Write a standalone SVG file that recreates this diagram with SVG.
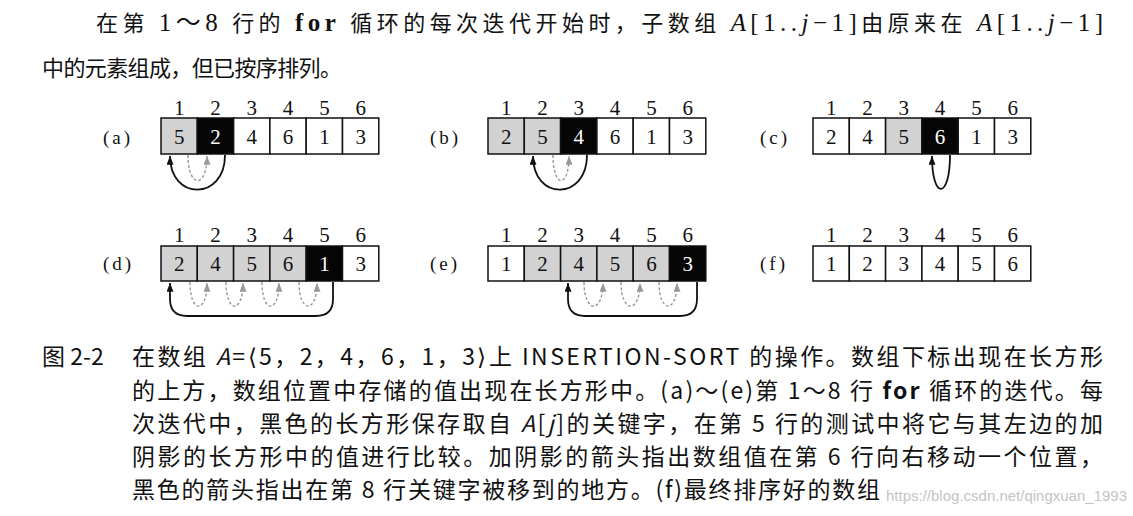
<svg xmlns="http://www.w3.org/2000/svg" width="1133" height="516" viewBox="0 0 1133 516">
<style>
.bg{fill:#fff}
.c{stroke:#111;stroke-width:1.5}
.w{fill:#fff}.g{fill:#d2d2d2}.k{fill:#050505}
.num{font-family:"Liberation Serif",serif;font-size:21px;text-anchor:middle;fill:#111}
.inv{fill:#fff}
.lbl{font-family:"Liberation Serif",serif;font-size:19px;fill:#111;letter-spacing:3px}
.txt{font-family:"Liberation Serif","Noto Sans CJK SC",serif;font-size:22px;fill:#111}
.lat{font-size:25px}
.cap{font-family:"Noto Sans CJK SC",sans-serif;font-size:23px;fill:#111}
.blk{fill:none;stroke:#111;stroke-width:1.8}
.gry{fill:none;stroke:#999;stroke-width:1.4;stroke-dasharray:3 2}
.wm{font-family:"Liberation Sans",sans-serif;font-size:15px;fill:#c4c4c4}
</style>
<defs>
<marker id="ak" viewBox="0 0 10 8" refX="10" refY="4" markerWidth="9" markerHeight="7" markerUnits="userSpaceOnUse" orient="auto"><path d="M0,0L10,4L0,8z" fill="#111"/></marker>
<marker id="ag" viewBox="0 0 10 8" refX="10" refY="4" markerWidth="9" markerHeight="7" markerUnits="userSpaceOnUse" orient="auto"><path d="M0,0L10,4L0,8z" fill="#999"/></marker>
</defs>
<rect class="bg" x="0" y="0" width="1133" height="516"/>

<g id="intro">
<text class="txt" x="96" y="31" textLength="1007" lengthAdjust="spacing">在第 <tspan class="lat">1～8</tspan> 行的 <tspan class="lat" font-weight="bold">for</tspan> 循环的每次迭代开始时，子数组 <tspan class="lat"><tspan font-style="italic">A</tspan>[1..<tspan font-style="italic">j</tspan>−1]</tspan>由原来在 <tspan class="lat"><tspan font-style="italic">A</tspan>[1..<tspan font-style="italic">j</tspan>−1]</tspan></text>
<text class="txt" x="42" y="76" textLength="300" lengthAdjust="spacing">中的元素组成，但已按序排列。</text>
</g>

<g id="array-a">
<text class="lbl" x="103" y="144">(a)</text>
<g class="num"><text x="179.2" y="115">1</text><text x="215.5" y="115">2</text><text x="251.8" y="115">3</text><text x="288.1" y="115">4</text><text x="324.4" y="115">5</text><text x="360.7" y="115">6</text></g>
<rect class="c g" x="161" y="118" width="36.3" height="36"/>
<rect class="c k" x="197.3" y="118" width="36.3" height="36"/>
<rect class="c w" x="233.6" y="118" width="36.3" height="36"/>
<rect class="c w" x="269.9" y="118" width="36.3" height="36"/>
<rect class="c w" x="306.2" y="118" width="36.3" height="36"/>
<rect class="c w" x="342.5" y="118" width="36.3" height="36"/>
<g class="num"><text x="179.2" y="144">5</text><text x="215.5" y="144" class="inv">2</text><text x="251.8" y="144">4</text><text x="288.1" y="144">6</text><text x="324.4" y="144">1</text><text x="360.7" y="144">3</text></g>
</g>

<g id="array-b">
<text class="lbl" x="430" y="144">(b)</text>
<g class="num"><text x="506.2" y="115">1</text><text x="542.5" y="115">2</text><text x="578.8" y="115">3</text><text x="615.1" y="115">4</text><text x="651.4" y="115">5</text><text x="687.7" y="115">6</text></g>
<rect class="c g" x="488" y="118" width="36.3" height="36"/>
<rect class="c g" x="524.3" y="118" width="36.3" height="36"/>
<rect class="c k" x="560.6" y="118" width="36.3" height="36"/>
<rect class="c w" x="596.9" y="118" width="36.3" height="36"/>
<rect class="c w" x="633.2" y="118" width="36.3" height="36"/>
<rect class="c w" x="669.5" y="118" width="36.3" height="36"/>
<g class="num"><text x="506.2" y="144">2</text><text x="542.5" y="144">5</text><text x="578.8" y="144" class="inv">4</text><text x="615.1" y="144">6</text><text x="651.4" y="144">1</text><text x="687.7" y="144">3</text></g>
</g>

<g id="array-c">
<text class="lbl" x="760" y="144">(c)</text>
<g class="num"><text x="831.2" y="115">1</text><text x="867.5" y="115">2</text><text x="903.8" y="115">3</text><text x="940.1" y="115">4</text><text x="976.4" y="115">5</text><text x="1012.7" y="115">6</text></g>
<rect class="c w" x="813" y="118" width="36.3" height="36"/>
<rect class="c w" x="849.3" y="118" width="36.3" height="36"/>
<rect class="c g" x="885.6" y="118" width="36.3" height="36"/>
<rect class="c k" x="921.9" y="118" width="36.3" height="36"/>
<rect class="c w" x="958.2" y="118" width="36.3" height="36"/>
<rect class="c w" x="994.5" y="118" width="36.3" height="36"/>
<g class="num"><text x="831.2" y="144">2</text><text x="867.5" y="144">4</text><text x="903.8" y="144">5</text><text x="940.1" y="144" class="inv">6</text><text x="976.4" y="144">1</text><text x="1012.7" y="144">3</text></g>
</g>

<g id="array-d">
<text class="lbl" x="103" y="270">(d)</text>
<g class="num"><text x="179.2" y="242">1</text><text x="215.5" y="242">2</text><text x="251.8" y="242">3</text><text x="288.1" y="242">4</text><text x="324.4" y="242">5</text><text x="360.7" y="242">6</text></g>
<rect class="c g" x="161" y="246" width="36.3" height="35"/>
<rect class="c g" x="197.3" y="246" width="36.3" height="35"/>
<rect class="c g" x="233.6" y="246" width="36.3" height="35"/>
<rect class="c g" x="269.9" y="246" width="36.3" height="35"/>
<rect class="c k" x="306.2" y="246" width="36.3" height="35"/>
<rect class="c w" x="342.5" y="246" width="36.3" height="35"/>
<g class="num"><text x="179.2" y="271">2</text><text x="215.5" y="271">4</text><text x="251.8" y="271">5</text><text x="288.1" y="271">6</text><text x="324.4" y="271" class="inv">1</text><text x="360.7" y="271">3</text></g>
</g>

<g id="array-e">
<text class="lbl" x="430" y="270">(e)</text>
<g class="num"><text x="506.2" y="242">1</text><text x="542.5" y="242">2</text><text x="578.8" y="242">3</text><text x="615.1" y="242">4</text><text x="651.4" y="242">5</text><text x="687.7" y="242">6</text></g>
<rect class="c w" x="488" y="246" width="36.3" height="35"/>
<rect class="c g" x="524.3" y="246" width="36.3" height="35"/>
<rect class="c g" x="560.6" y="246" width="36.3" height="35"/>
<rect class="c g" x="596.9" y="246" width="36.3" height="35"/>
<rect class="c g" x="633.2" y="246" width="36.3" height="35"/>
<rect class="c k" x="669.5" y="246" width="36.3" height="35"/>
<g class="num"><text x="506.2" y="271">1</text><text x="542.5" y="271">2</text><text x="578.8" y="271">4</text><text x="615.1" y="271">5</text><text x="651.4" y="271">6</text><text x="687.7" y="271" class="inv">3</text></g>
</g>

<g id="array-f">
<text class="lbl" x="760" y="270">(f)</text>
<g class="num"><text x="831.2" y="242">1</text><text x="867.5" y="242">2</text><text x="903.8" y="242">3</text><text x="940.1" y="242">4</text><text x="976.4" y="242">5</text><text x="1012.7" y="242">6</text></g>
<rect class="c w" x="813" y="246" width="36.3" height="35"/>
<rect class="c w" x="849.3" y="246" width="36.3" height="35"/>
<rect class="c w" x="885.6" y="246" width="36.3" height="35"/>
<rect class="c w" x="921.9" y="246" width="36.3" height="35"/>
<rect class="c w" x="958.2" y="246" width="36.3" height="35"/>
<rect class="c w" x="994.5" y="246" width="36.3" height="35"/>
<g class="num"><text x="831.2" y="271">1</text><text x="867.5" y="271">2</text><text x="903.8" y="271">3</text><text x="940.1" y="271">4</text><text x="976.4" y="271">5</text><text x="1012.7" y="271">6</text></g>
</g>

<g id="connectors">
<path class="gry" d="M188,155 C188,189 207,189 207,156" marker-end="url(#ag)"/>
<path class="blk" d="M225,155 C225,201 170,201 170,156" marker-end="url(#ak)"/>
<path class="gry" d="M553,155 C553,189 569,189 569,156" marker-end="url(#ag)"/>
<path class="blk" d="M587,155 C587,201 533,201 533,156" marker-end="url(#ak)"/>
<path class="blk" d="M950,155 C950,200 932,200 932,156" marker-end="url(#ak)"/>
<path class="gry" d="M190,282 C190,314 207,314 207,283" marker-end="url(#ag)"/>
<path class="gry" d="M226,282 C226,314 243,314 243,283" marker-end="url(#ag)"/>
<path class="gry" d="M262,282 C262,314 279,314 279,283" marker-end="url(#ag)"/>
<path class="gry" d="M299,282 C299,314 317,314 317,283" marker-end="url(#ag)"/>
<path class="blk" d="M333,282 L333,299 Q333,316 316,316 L187,316 Q170,316 170,299 L170,283" marker-end="url(#ak)"/>
<path class="gry" d="M584,282 C584,314 603,314 603,283" marker-end="url(#ag)"/>
<path class="gry" d="M621,282 C621,314 640,314 640,283" marker-end="url(#ag)"/>
<path class="gry" d="M659,282 C659,314 677,314 677,283" marker-end="url(#ag)"/>
<path class="blk" d="M697,282 L697,299 Q697,316 680,316 L585,316 Q568,316 568,299 L568,283" marker-end="url(#ak)"/>
</g>

<g id="caption">
<text class="cap" x="42" y="365">图 2-2</text>
<text class="cap" x="132" y="365" textLength="971" lengthAdjust="spacing">在数组 <tspan font-style="italic">A</tspan>=⟨5，2，4，6，1，3⟩上 INSERTION-SORT 的操作。数组下标出现在长方形</text>
<text class="cap" x="132" y="399" textLength="971" lengthAdjust="spacing">的上方，数组位置中存储的值出现在长方形中。(a)～(e)第 1～8 行 <tspan font-weight="bold">for</tspan> 循环的迭代。每</text>
<text class="cap" x="132" y="432" textLength="971" lengthAdjust="spacing">次迭代中，黑色的长方形保存取自 <tspan font-style="italic">A</tspan>[<tspan font-style="italic">j</tspan>]的关键字，在第 5 行的测试中将它与其左边的加</text>
<text class="cap" x="132" y="465" textLength="971" lengthAdjust="spacing">阴影的长方形中的值进行比较。加阴影的箭头指出数组值在第 6 行向右移动一个位置，</text>
<text class="cap" x="132" y="498" textLength="748" lengthAdjust="spacing">黑色的箭头指出在第 8 行关键字被移到的地方。(f)最终排序好的数组</text>
<text class="wm" x="886" y="501">https://blog.csdn.net/qingxuan_1993</text>
</g>
</svg>
